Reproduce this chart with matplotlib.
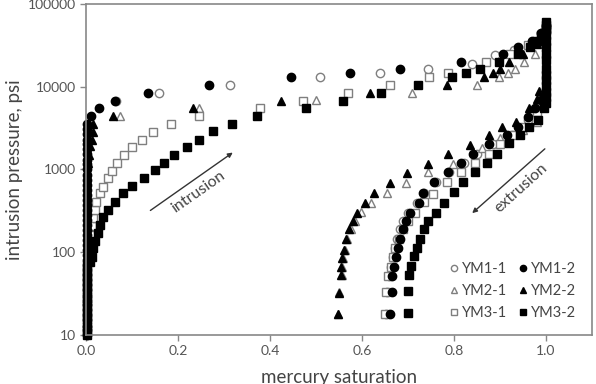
import matplotlib
matplotlib.use("Agg")
import matplotlib.pyplot as plt

plt.rcParams['font.family'] = ['Lato', 'DejaVu Sans']

# ---------------- data ----------------
# YM1-2 (filled circle): vertical column near x=0, intrusion branch, extrusion branch
ym12_col_y = [10, 11.5, 13, 15, 17.5, 20, 23, 26, 30, 35, 40, 46, 53, 61, 70, 80, 92, 106,
              122, 140, 160, 185, 213, 245, 280, 325, 373, 430, 495, 570, 655, 755, 870,
              1000, 1150, 1320, 1520, 1750, 2010, 2300, 2650, 3050, 3500]
ym12_col_x = [0.002] * len(ym12_col_y)
ym12_x = [0.01, 0.028, 0.062, 0.135, 0.268, 0.445, 0.574, 0.683, 0.815, 0.907, 0.94, 0.97, 0.99, 1.0,
          0.99, 0.975, 0.96, 0.94, 0.916, 0.877, 0.842, 0.815, 0.788, 0.757, 0.733, 0.723, 0.704,
          0.696, 0.69, 0.683, 0.679, 0.674, 0.67, 0.665, 0.665, 0.661]
ym12_y = [4470, 5580, 6760, 8470, 10400, 13000, 14800, 16200, 20000, 25000, 30000, 36000, 45000, 55000,
          7000, 5500, 4300, 3300, 2610, 2030, 1540, 1200, 925, 713, 515, 398, 300,
          240, 189, 143, 112, 87, 67, 52, 33, 18]

# YM1-1 (open circle)
ym11_x = [0.065, 0.159, 0.313, 0.509, 0.639, 0.744, 0.84, 0.89, 0.93, 0.97, 0.99, 1.0,
          0.99, 0.96, 0.925, 0.885, 0.85, 0.822, 0.79, 0.76, 0.735, 0.72, 0.70, 0.69, 0.683,
          0.676, 0.672, 0.667, 0.663, 0.658, 0.655, 0.652]
ym11_y = [6760, 8470, 10400, 13000, 14800, 16200, 19000, 24000, 28000, 35000, 45000, 52000,
          6500, 4000, 2610, 2030, 1540, 1200, 925, 713, 515, 398, 300, 240, 189,
          143, 112, 87, 67, 52, 33, 18]

# YM2-2 (filled triangle)
ym22_x = [0.004, 0.006, 0.008, 0.012, 0.015, 0.016, 0.058, 0.233, 0.423, 0.617, 0.784, 0.865, 0.884,
          0.9, 0.92, 0.95, 0.98, 1.0,
          0.985, 0.98, 0.962, 0.935, 0.905, 0.875, 0.835, 0.788, 0.744, 0.697, 0.66, 0.626, 0.607,
          0.59, 0.58, 0.572, 0.565, 0.561, 0.557, 0.555, 0.554, 0.549, 0.547]
ym22_y = [1200, 1500, 1900, 2300, 2870, 3540, 4400, 5500, 6760, 8470, 10500, 13000, 14800,
          16200, 20000, 25000, 33000, 45000,
          9000, 7200, 5600, 3800, 3300, 2600, 2000, 1540, 1170, 900, 690, 515, 390,
          300, 240, 189, 143, 106, 85, 67, 53, 32.5, 18]

# YM2-1 (open triangle)
ym21_x = [0.074, 0.246, 0.5, 0.708, 0.849, 0.898, 0.918, 0.933, 0.952, 0.976, 0.995,
          0.98, 0.95, 0.90, 0.86, 0.797, 0.744, 0.696, 0.655, 0.62, 0.597, 0.585, 0.577, 0.568,
          0.563, 0.559, 0.557, 0.556, 0.551, 0.548]
ym21_y = [4400, 5500, 6900, 8470, 10500, 13000, 14500, 16200, 20000, 25000, 35000,
          3700, 3000, 2400, 1800, 1180, 920, 690, 515, 390, 310, 240, 189, 143,
          106, 85, 67, 53, 33, 18]

# YM3-1 (open square)
ym31_x = [0.008, 0.012, 0.013, 0.015, 0.019, 0.022, 0.03, 0.038, 0.047, 0.057, 0.068, 0.083, 0.1,
          0.121, 0.145, 0.185, 0.246, 0.378, 0.472, 0.57, 0.66, 0.746, 0.788, 0.87, 0.922, 0.96,
          0.99, 1.0,
          0.98, 0.95, 0.925, 0.901, 0.875, 0.846, 0.816, 0.785, 0.755, 0.735, 0.715, 0.70, 0.69,
          0.68, 0.672, 0.667, 0.662, 0.657, 0.652, 0.65]
ym31_y = [128, 160, 205, 257, 325, 410, 515, 620, 780, 970, 1190, 1500, 1890,
          2300, 2870, 3540, 4470, 5500, 6760, 8470, 10500, 13000, 14800, 20000, 25000, 32000,
          42000, 50000,
          5000, 3300, 2600, 2040, 1540, 1200, 920, 713, 505, 400, 300, 240, 189,
          143, 112, 87, 67, 52, 33, 18]

# YM3-2 (filled square)
ym32_col_y = [10, 11.5, 13, 15, 17, 19.5, 22.5, 26, 30, 34, 39, 45, 52, 60, 70]
ym32_col_x = [0.002] * len(ym32_col_y)
ym32_x = [0.008, 0.012, 0.015, 0.019, 0.025, 0.03, 0.037, 0.048, 0.062, 0.08, 0.101, 0.127, 0.15,
          0.17, 0.192, 0.219, 0.246, 0.277, 0.317, 0.372, 0.478, 0.558, 0.642, 0.721, 0.795, 0.826,
          0.857, 0.898, 0.94, 0.965, 0.98, 0.99, 1.0, 1.0, 1.0,
          1.0, 1.0, 1.0, 1.0, 1.0, 1.0, 1.0, 1.0, 1.0, 1.0, 1.0, 1.0, 1.0, 0.995,
          0.983, 0.962, 0.943, 0.92, 0.894, 0.871, 0.846, 0.82, 0.80, 0.778, 0.761, 0.744,
          0.735, 0.726, 0.72, 0.713, 0.706, 0.703, 0.701, 0.699]
ym32_y = [77, 88, 112, 135, 170, 213, 270, 325, 410, 525, 640, 780, 990,
          1190, 1480, 1890, 2300, 2900, 3540, 4470, 5600, 6760, 8470, 10500, 13000, 14800,
          16200, 20000, 25000, 30000, 36000, 42000, 48000, 55000, 60000,
          50000, 42000, 36000, 30000, 25000, 21000, 16200, 13870, 12000, 10200, 8700, 7460, 6300, 5500,
          3970, 3300, 2610, 2075, 1540, 1200, 940, 713, 540, 398, 300, 240,
          189, 143, 112, 89, 68, 53, 34, 18.6]

legend_labels = ["YM1-1", "YM2-1", "YM3-1", "YM1-2", "YM2-2", "YM3-2"]
x_ticks = [0.0, 0.2, 0.4, 0.6, 0.8, 1.0]
y_ticks = [10, 100, 1000, 10000, 100000]

# ---------------- plot ----------------
fig = plt.figure(figsize=(5.96, 3.84), dpi=100)
ax = fig.add_axes([0.1443, 0.1276, 0.849, 0.862])

gray = '#7f7f7f'
ms = 6.0
common = dict(linestyle='none', clip_on=False)

h11, = ax.plot(ym11_x, ym11_y, marker='o', mfc='white', mec=gray, ms=ms, mew=1.0, **common)
h21, = ax.plot(ym21_x, ym21_y, marker='^', mfc='white', mec=gray, ms=ms, mew=1.0, **common)
h31, = ax.plot(ym31_x, ym31_y, marker='s', mfc='white', mec=gray, ms=ms - 0.4, mew=1.0, **common)
h22, = ax.plot(ym22_x, ym22_y, marker='^', mfc='black', mec='black', ms=ms, **common)
h12, = ax.plot(ym12_col_x + ym12_x, ym12_col_y + ym12_y, marker='o', mfc='black', mec='black', ms=ms, **common)
h32, = ax.plot(ym32_col_x + ym32_x, ym32_col_y + ym32_y, marker='s', mfc='black', mec='black', ms=ms - 0.4, **common)

ax.set_yscale('log')
ax.set_xlim(0, 1.1)
ax.set_ylim(10, 100000)
ax.set_xticks(x_ticks)
ax.set_xticklabels([f"{v:.1f}" for v in x_ticks])
ax.set_yticks(y_ticks)
ax.set_yticklabels([str(v) for v in y_ticks])
ax.yaxis.set_minor_locator(matplotlib.ticker.NullLocator())

for s in ax.spines.values():
    s.set_color('#888888')
    s.set_linewidth(1.2)
ax.tick_params(axis='both', colors='#888888', labelcolor='#555555', labelsize=10,
               length=4, width=1.0, direction='out')

ax.set_xlabel('mercury saturation', fontsize=13.5, color='#444444', labelpad=8)
ax.set_ylabel('intrusion pressure, psi', fontsize=13.5, color='#444444', labelpad=3)

# arrows and annotations
ax.annotate('', xy=(0.324, 1675), xytext=(0.135, 306),
            arrowprops=dict(arrowstyle='-|>', color='#333333', lw=1.0, mutation_scale=7))
ax.text(0.243, 535, 'intrusion', rotation=35, ha='center', va='center', fontsize=11.5, color='#444444')
ax.annotate('', xy=(0.835, 282), xytext=(1.002, 1870),
            arrowprops=dict(arrowstyle='-|>', color='#333333', lw=1.0, mutation_scale=7))
ax.text(0.946, 597, 'extrusion', rotation=42, ha='center', va='center', fontsize=11.5, color='#444444')

handles = [h11, h21, h31, h12, h22, h32]
leg = ax.legend(handles, legend_labels, ncol=2, frameon=False, loc='lower right',
                bbox_to_anchor=(0.995, 0.005), fontsize=10.5, handlelength=0.6, handletextpad=0.25,
                columnspacing=0.8, labelspacing=0.55, markerscale=0.75, labelcolor='#444444')

fig.savefig('out.png', dpi=100)
